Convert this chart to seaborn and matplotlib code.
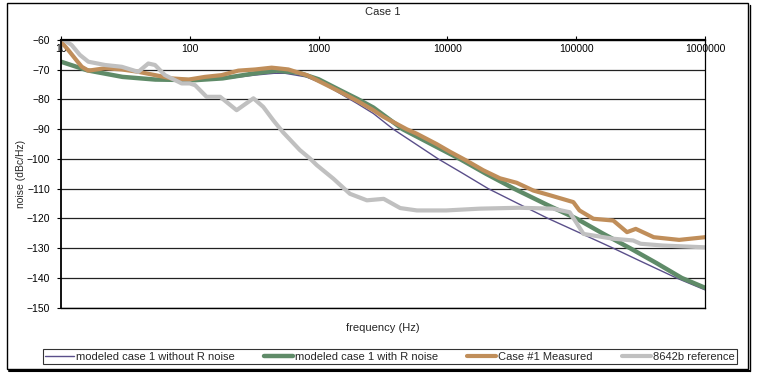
import pandas as pd
import seaborn as sns
from matplotlib import pyplot as plt
from matplotlib.lines import Line2D
from matplotlib.patches import Rectangle
from matplotlib.ticker import NullLocator

# values: frequency (Hz) and noise (dBc/Hz)
model_freq = [10, 16, 30, 54, 110, 180, 320, 450, 550, 800, 1100, 1470, 2000,
              2660, 3800, 5000, 8500, 13000, 20800, 35000, 60500, 100000,
              194000, 300000, 600000, 1000000]
model_noise = [-67.5, -70.3, -72.4, -73.3, -73.6, -73.1, -71.8, -71.2, -71.2,
               -72.4, -74.8, -78.0, -81.4, -84.7, -90.0, -93.4, -100.0, -104.7,
               -110.0, -114.9, -120.0, -124.3, -130.0, -133.9, -140.0, -144.0]

model_r_freq = [10, 16, 30, 54, 110, 180, 320, 470, 700, 1000, 1470, 2000, 2660,
                4500, 7800, 12500, 20000, 33000, 60000, 100000, 160000, 262000,
                420000, 660000, 1000000]
model_r_noise = [-67.3, -70.2, -72.4, -73.3, -73.5, -72.9, -71.2, -70.3, -71.0,
                 -73.2, -76.9, -79.8, -82.7, -90.0, -95.4, -100.0, -105.0,
                 -110.0, -115.5, -120.0, -125.0, -130.0, -135.0, -140.0, -143.3]

meas_freq = [10, 11.4, 13, 14.5, 16.3, 22, 29.6, 39.8, 53.7, 72, 98, 131, 177,
             238, 323, 432, 480, 582, 700, 809, 1090, 1466, 2000, 2660, 3180,
             4830, 5780, 8260, 10500, 14000, 19000, 25600, 34500, 46400, 62600,
             95000, 106000, 136000, 194000, 248000, 290000, 400000, 630000,
             1000000]
meas_noise = [-60.5, -63.4, -66.5, -69.0, -70.3, -69.5, -69.9, -70.7, -71.8,
              -72.9, -73.3, -72.4, -71.8, -70.3, -69.9, -69.3, -69.5, -69.9,
              -71.0, -71.8, -74.6, -77.4, -80.5, -83.6, -85.8, -90.0, -91.5,
              -95.0, -97.6, -100.5, -103.8, -106.5, -108.0, -110.6, -112.2,
              -114.5, -117.3, -120.1, -120.7, -124.6, -123.5, -126.3, -127.2,
              -126.3]

ref_freq = [10.4, 12.1, 14, 16.3, 22, 29.6, 39.8, 47.6, 53.7, 64, 86.5, 100,
            110, 135, 172, 231, 312, 372, 445, 529, 600, 715, 860, 970, 1300,
            1750, 2370, 3200, 4300, 5800, 9800, 17800, 36000, 66000, 89000,
            114000, 193000, 277000, 316000, 470000, 1000000]
ref_noise = [-59.8, -61.7, -65.0, -67.3, -68.4, -69.0, -70.7, -67.9, -68.4,
             -71.8, -74.6, -74.6, -75.2, -79.1, -79.1, -83.6, -79.6, -82.5,
             -87.0, -91.0, -93.5, -97.0, -99.9, -102.1, -106.6, -111.7, -113.9,
             -113.4, -116.5, -117.3, -117.3, -116.7, -116.4, -116.7, -117.9,
             -125.2, -126.8, -127.4, -128.5, -129.1, -129.7]

x_ticks = [10, 100, 1000, 10000, 100000, 1000000]
x_labels = ['10', '100', '1000', '10000', '100000', '1000000']
y_ticks = list(range(-150, -59, 10))

SERIES = [
    ("modeled case 1 without R noise", model_freq, model_noise, '#5a4f8a', 1.0),
    ("modeled case 1 with R noise", model_r_freq, model_r_noise, '#5f8b68', 3.2),
    ("Case #1 Measured", meas_freq, meas_noise, '#c08e5a', 3.0),
    ("8642b reference", ref_freq, ref_noise, '#c0c0c0', 3.0),
]


def main():
    sns.set_style("white")
    plt.rcParams['font.family'] = ['Liberation Sans', 'DejaVu Sans']

    fig = plt.figure(figsize=(7.59, 3.76), dpi=100)
    ax = fig.add_axes([61 / 759, 1 - 307.7 / 376, 644 / 759, 267.7 / 376])

    for name, f, v, color, lw in SERIES:
        df = pd.DataFrame({'frequency': f, 'noise': v})
        sns.lineplot(data=df, x='frequency', y='noise', ax=ax, color=color,
                     linewidth=lw, label=name, estimator=None)

    handles, labels = ax.get_legend_handles_labels()
    ax.get_legend().remove()

    ax.set_xscale('log')
    ax.set_xlim(10, 1000000)
    ax.set_ylim(-150, -60)
    ax.set_xticks(x_ticks)
    ax.set_xticklabels(x_labels)
    ax.xaxis.set_minor_locator(NullLocator())
    ax.set_yticks(y_ticks)
    ax.yaxis.grid(True, color='#222222', lw=0.9)
    ax.xaxis.grid(False)

    ax.tick_params(axis='x', top=True, bottom=False, labeltop=True,
                   labelbottom=False, direction='out', length=3, width=0.8,
                   pad=-13, labelsize=7.5, colors='black')
    ax.tick_params(axis='y', left=True, direction='out', length=3, width=0.8,
                   pad=5, labelsize=7.5, colors='black')

    for side, lw in [('top', 1.6), ('left', 1.3), ('right', 0.9), ('bottom', 1.0)]:
        ax.spines[side].set_color('black')
        ax.spines[side].set_linewidth(lw)

    ax.set_xlabel('frequency (Hz)', fontsize=8)
    ax.xaxis.set_label_position('bottom')
    ax.xaxis.set_label_coords(0.5, -0.058)
    ax.set_ylabel('noise (dBc/Hz)', fontsize=7.5)
    ax.yaxis.set_label_coords(-0.054, 0.5)

    fig.text(383 / 759, 1 - 12 / 376, 'Case 1', ha='center', va='center',
             fontsize=8)

    leg = fig.legend(handles, labels, loc='center', ncol=4,
                     bbox_to_anchor=(390 / 759, 1 - 356.5 / 376), fontsize=8,
                     frameon=True, fancybox=False, edgecolor='black',
                     handlelength=2.6, handletextpad=0.2, columnspacing=2.6,
                     borderpad=0.2)
    leg.get_frame().set_linewidth(0.8)

    # outer chart border with the little shadow on right/bottom
    fig.patches.append(Rectangle((7 / 759, 1 - 369 / 376), 741 / 759, 366 / 376,
                                 transform=fig.transFigure, fill=False,
                                 edgecolor='black', lw=1.0))
    fig.add_artist(Line2D([9 / 759, 750 / 759], [1 - 370.5 / 376] * 2,
                          transform=fig.transFigure, color='black', lw=1.5))
    fig.add_artist(Line2D([750 / 759] * 2, [1 - 370.5 / 376, 1 - 5 / 376],
                          transform=fig.transFigure, color='black', lw=1.0))

    fig.savefig('out.png', dpi=100)


if __name__ == '__main__':
    main()
